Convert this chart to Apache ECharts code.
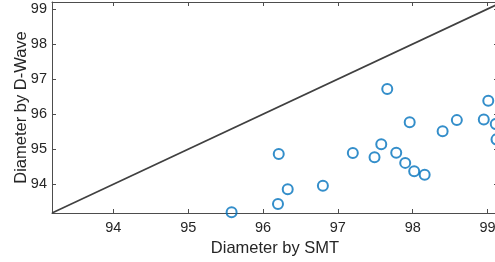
<!DOCTYPE html>
<html>
<head>
<meta charset="utf-8">
<script src="https://cdn.jsdelivr.net/npm/echarts@6/dist/echarts.min.js"></script>
<style>
  html, body { margin: 0; padding: 0; background: #fff; }
  #chart { width: 495px; height: 262px; }
</style>
</head>
<body>
<div id="chart"></div>
<script>
  // diameters
  var smt = [95.58, 96.20, 96.21, 96.33, 96.80, 97.20, 97.49, 97.58, 97.66, 97.78,
    97.90, 98.02, 98.16, 97.96, 98.40, 98.59, 98.95, 99.01, 99.11, 99.12]
  var dwave = [93.20, 93.44, 94.86, 93.86, 93.96, 94.89, 94.77, 95.14, 96.72, 94.90,
    94.61, 94.37, 94.27, 95.77, 95.51, 95.83, 95.85, 96.38, 95.72, 95.28]
  var ticks = [94, 95, 96, 97, 98, 99]
  var axisMin = 93.18
  var xMax = 99.14
  var yMax = 99.2
  var diag = [93.18, 99.3]

  var points = []
  for (var i = 0; i < smt.length; i++) {
    points.push([smt[i], dwave[i]])
  }

  var chart = echarts.init(document.getElementById('chart'))
  var font = 'Liberation Sans, Arial, sans-serif'
  var boxLine = { lineStyle: { color: '#4d4d4d', width: 1 } }
  var tick = { inside: true, length: 4, customValues: ticks, lineStyle: { color: '#4d4d4d' } }
  var label = { fontFamily: font, fontSize: 14.5, color: '#262626', customValues: ticks }
  var title = { fontFamily: font, fontSize: 16.5, color: '#262626' }

  var option = {
    animation: false,
    grid: { left: 52, right: -3, top: 2, bottom: 49, outerBoundsMode: 'none', containLabel: false },
    xAxis: [{
      type: 'value',
      min: axisMin,
      max: xMax,
      name: 'Diameter by SMT',
      nameLocation: 'middle',
      nameGap: 27,
      nameMoveOverlap: false,
      nameTextStyle: title,
      axisLine: boxLine,
      axisTick: tick,
      axisLabel: Object.assign({ margin: 7 }, label),
      splitLine: { show: false }
    }, {
      type: 'value',
      position: 'top',
      min: axisMin,
      max: xMax,
      axisLine: boxLine,
      axisTick: tick,
      axisLabel: { show: false },
      splitLine: { show: false }
    }],
    yAxis: [{
      type: 'value',
      min: axisMin,
      max: yMax,
      name: 'Diameter by D-Wave',
      nameLocation: 'middle',
      nameGap: 22,
      nameMoveOverlap: false,
      nameTextStyle: title,
      axisLine: boxLine,
      axisTick: tick,
      axisLabel: Object.assign({ margin: 5 }, label),
      splitLine: { show: false }
    }, {
      type: 'value',
      position: 'right',
      min: axisMin,
      max: yMax,
      axisLine: boxLine,
      axisTick: tick,
      axisLabel: { show: false },
      splitLine: { show: false }
    }],
    series: [{
      type: 'line',
      data: [[diag[0], diag[0]], [diag[1], diag[1]]],
      symbol: 'none',
      lineStyle: { color: '#404040', width: 1.6 },
      clip: true
    }, {
      type: 'scatter',
      data: points,
      symbol: 'circle',
      symbolSize: 10,
      clip: false,
      itemStyle: { color: 'rgba(0,0,0,0)', borderColor: '#0072BD', borderWidth: 2 }
    }]
  }
  chart.setOption(option)
</script>
</body>
</html>
